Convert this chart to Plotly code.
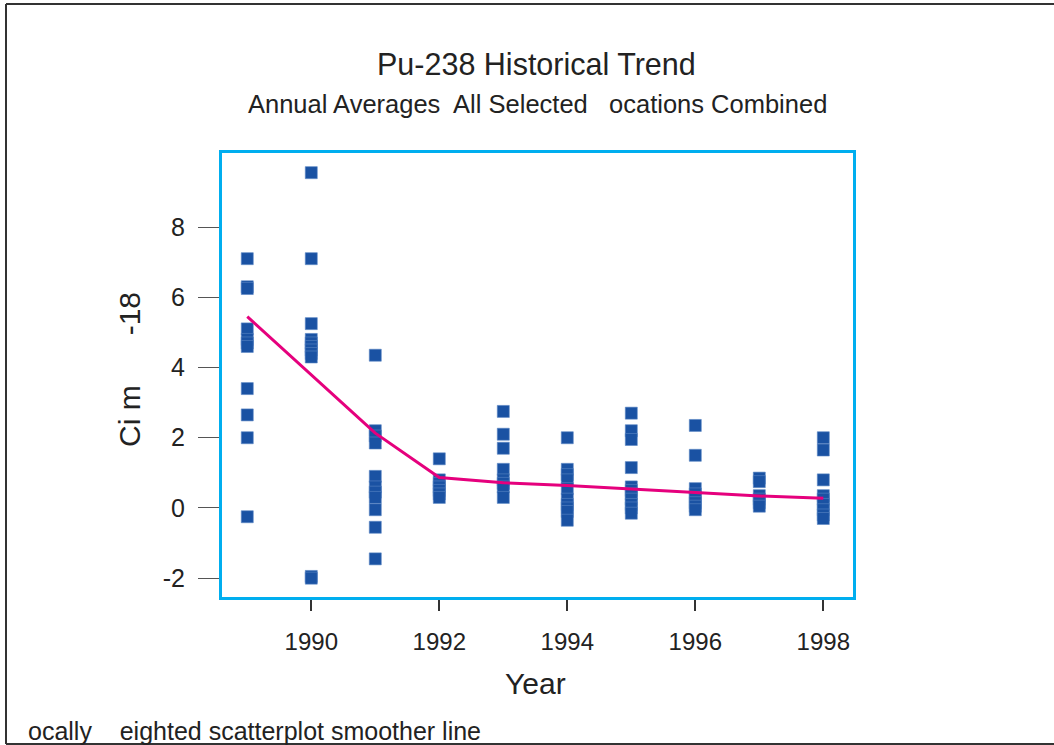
import plotly.graph_objects as go

# Annual sample results (Ci m  -18) by year
years = [1989, 1990, 1991, 1992, 1993, 1994, 1995, 1996, 1997, 1998]
y1989 = [7.1, 6.3, 6.25, 5.1, 4.8, 4.7, 4.6, 3.4, 2.65, 2.0, -0.25]
y1990 = [9.55, 7.1, 5.25, 4.8, 4.7, 4.6, 4.5, 4.4, 4.3, -1.95, -2.0]
y1991 = [4.35, 2.2, 2.05, 1.85, 0.9, 0.6, 0.45, 0.3, -0.05, -0.55, -1.45]
y1992 = [1.4, 0.8, 0.7, 0.6, 0.5, 0.4, 0.3]
y1993 = [2.75, 2.1, 1.7, 1.1, 0.8, 0.7, 0.6, 0.3]
y1994 = [2.0, 1.1, 0.95, 0.8, 0.55, 0.25, 0.1, 0.0, -0.1, -0.35]
y1995 = [2.7, 2.2, 1.95, 1.15, 0.6, 0.5, 0.4, 0.25, 0.1, 0.0, -0.15]
y1996 = [2.35, 1.5, 0.55, 0.4, 0.3, 0.15, 0.05, -0.05]
y1997 = [0.85, 0.75, 0.35, 0.25, 0.15, 0.05]
y1998 = [2.0, 1.65, 0.8, 0.35, 0.25, 0.1, -0.05, -0.2, -0.3]

# Locally weighted smoother evaluated at each year
smooth = [5.45, 3.8, 2.13, 0.87, 0.72, 0.64, 0.54, 0.44, 0.34, 0.28]

x_ticks = [1990, 1992, 1994, 1996, 1998]
y_ticks = [-2, 0, 2, 4, 6, 8]
y_tick_labels = ["-2", "0", "2", "4", "6", "8"]

columns = [y1989, y1990, y1991, y1992, y1993, y1994, y1995, y1996, y1997, y1998]
px, py = [], []
for yr, vals in zip(years, columns):
    px += [yr] * len(vals)
    py += vals

FONT = "Arial, 'Liberation Sans', Helvetica, sans-serif"
TXT = "#222222"
FRAME = "#00AEEF"

fig = go.Figure()
fig.add_trace(go.Scatter(
    x=px, y=py, mode="markers",
    marker=dict(symbol="square", size=12, color="#1A52A3",
                line=dict(width=0.6, color="#5A86C4")),
    hoverinfo="x+y", showlegend=False))
fig.add_trace(go.Scatter(
    x=years, y=smooth, mode="lines",
    line=dict(color="#E5007D", width=3), showlegend=False))

W, H = 1054, 745
L, R, T, B = 222, 201, 153, 148
pw, ph = W - L - R, H - T - B


def xp(p):
    return (p - L) / pw


def yp(p):
    return (H - B - p) / ph


fig.update_layout(
    width=W, height=H,
    margin=dict(l=L, r=R, t=T, b=B, pad=0),
    paper_bgcolor="white", plot_bgcolor="white",
    font=dict(family=FONT, color=TXT, size=25),
    xaxis=dict(range=[1988.605, 1998.464], tickvals=x_ticks,
               ticks="outside", ticklen=11, tickwidth=1.5, tickcolor="#333",
               showline=True, linecolor=FRAME, linewidth=3, mirror=True,
               showgrid=False, zeroline=False, ticklabelstandoff=10,
               tickfont=dict(size=24)),
    yaxis=dict(range=[-2.536, 10.11], tickvals=y_ticks, ticktext=y_tick_labels,
               ticks="outside", ticklen=21, tickwidth=1.2, tickcolor="#555",
               showline=True, linecolor=FRAME, linewidth=3, mirror=True,
               showgrid=False, zeroline=False, ticklabelstandoff=8,
               tickfont=dict(size=25)),
    annotations=[
        dict(text="Pu-238 Historical Trend", x=xp(536), y=yp(64),
             xref="paper", yref="paper", showarrow=False,
             xanchor="center", yanchor="middle", font=dict(size=30.5)),
        dict(text="Annual Averages\u00a0 All Selected\u00a0\u00a0 ocations Combined",
             x=xp(537), y=yp(104), xref="paper", yref="paper", showarrow=False,
             xanchor="center", yanchor="middle", font=dict(size=25.5)),
        dict(text="Year", x=xp(535), y=yp(683), xref="paper", yref="paper",
             showarrow=False, xanchor="center", yanchor="middle",
             font=dict(size=30)),
        dict(text="Ci m\u00a0\u00a0\u00a0\u00a0\u00a0\u00a0-18", x=xp(129), y=yp(370),
             xref="paper", yref="paper", showarrow=False, textangle=-90,
             xanchor="center", yanchor="middle", font=dict(size=30)),
        dict(text="ocally\u00a0\u00a0\u00a0 eighted scatterplot smoother line",
             x=xp(26), y=yp(731), xref="paper", yref="paper", showarrow=False,
             xanchor="left", yanchor="middle", font=dict(size=25)),
    ],
    shapes=[
        dict(type="line", xref="paper", yref="paper",
             x0=xp(6), x1=xp(1060), y0=yp(4), y1=yp(4),
             line=dict(color="#333", width=2)),
        dict(type="line", xref="paper", yref="paper",
             x0=xp(6), x1=xp(6), y0=yp(4), y1=yp(744),
             line=dict(color="#333", width=2)),
        dict(type="line", xref="paper", yref="paper",
             x0=xp(6), x1=xp(1060), y0=yp(744), y1=yp(744),
             line=dict(color="#333", width=2)),
    ],
)

fig.write_html("out.html")
